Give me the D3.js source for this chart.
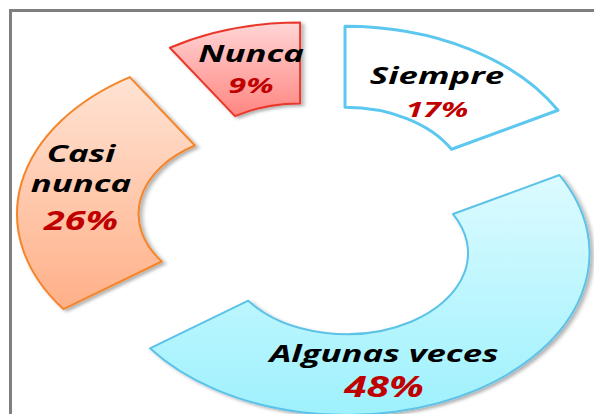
<!DOCTYPE html>
<html>
<head>
<meta charset="utf-8">
<script src="https://cdn.jsdelivr.net/npm/d3@7"></script>
<style>
  html, body { margin: 0; padding: 0; background: #ffffff; }
  svg { display: block; }
  text { font-family: "Open Sans", "Noto Sans", sans-serif; font-weight: 700; font-style: italic; }
</style>
</head>
<body>
<svg id="chart" width="594" height="414"></svg>
<script>
// Survey answer shares (percent)
const categories = ["Siempre", "Algunas veces", "Casi nunca", "Nunca"];
const values = [17, 48, 26, 9];
const labelLines = [["Siempre"], ["Algunas veces"], ["Casi", "nunca"], ["Nunca"]];

// Layout and styling
const W = 594, H = 414;
const cx = 316, cy = 221;          // centre of the (unexploded) ring
const outerR = 162, innerR = 81;   // vertical radii
const stretchX = 1.5;              // ring is drawn wider than tall
const explode = 38;                // distance each segment is pulled out
const textStretch = 1.45;

const styles = [
  { stroke: "#5cc8ef", width: 3, top: "#ffffff", bottom: "#ffffff" },
  { stroke: "#5cc2e8", width: 2, top: "#dcfbff", bottom: "#9ef1fd" },
  { stroke: "#f5842a", width: 2, top: "#ffe3d4", bottom: "#ffb088" },
  { stroke: "#e8392c", width: 2, top: "#ffd6d6", bottom: "#ff8580" }
];
// label anchor: centre x, baselines of the name lines and of the percentage
const labelPos = [
  { x: 437, ys: [84], pctY: 117, size: 24, pct: 22 },
  { x: 384, ys: [362], pctY: 397, size: 24, pct: 28 },
  { x: 81, ys: [162, 192], pctY: 230, size: 24, pct: 26 },
  { x: 251, ys: [62], pctY: 93, size: 24, pct: 22 }
];

const svg = d3.select("#chart");
const defs = svg.append("defs");

const shadow = defs.append("filter").attr("id", "shadow")
  .attr("x", "-10%").attr("y", "-10%").attr("width", "130%").attr("height", "130%");
shadow.append("feDropShadow")
  .attr("dx", 2).attr("dy", 2).attr("stdDeviation", 1.5)
  .attr("flood-color", "#000").attr("flood-opacity", 0.3);

styles.forEach((s, i) => {
  const lg = defs.append("linearGradient").attr("id", "grad" + i)
    .attr("x1", 0).attr("y1", 0).attr("x2", 0).attr("y2", 1);
  lg.append("stop").attr("offset", "0%").attr("stop-color", s.top);
  lg.append("stop").attr("offset", "100%").attr("stop-color", s.bottom);
});

// Frame around the plot area
svg.append("rect")
  .attr("x", 10.5).attr("y", 10.5)
  .attr("width", W + 20).attr("height", H + 20)
  .attr("fill", "#ffffff")
  .attr("stroke", "#7f7f7f").attr("stroke-width", 3);

const pie = d3.pie().sort(null).value(d => d).startAngle(0).endAngle(2 * Math.PI);
const arcs = pie(values);
const arc = d3.arc().innerRadius(innerR).outerRadius(outerR);

const seg = svg.append("g").selectAll("g")
  .data(arcs)
  .join("g")
  .attr("transform", d => {
    const mid = (d.startAngle + d.endAngle) / 2;
    const ox = Math.sin(mid) * explode * stretchX;
    const oy = -Math.cos(mid) * explode;
    return `translate(${cx + ox},${cy + oy}) scale(${stretchX},1)`;
  });

seg.append("path")
  .attr("d", arc)
  .attr("fill", (d, i) => `url(#grad${i})`)
  .attr("stroke", (d, i) => styles[i].stroke)
  .attr("stroke-width", (d, i) => styles[i].width)
  .attr("stroke-linejoin", "round")
  .attr("vector-effect", "non-scaling-stroke")
  .attr("filter", (d, i) => i === 0 ? null : "url(#shadow)");

// Category and percentage labels
const fmt = d3.format(".0%");
const total = d3.sum(values);
categories.forEach((c, i) => {
  const p = labelPos[i];
  const g = svg.append("g");
  labelLines[i].forEach((ln, k) => {
    g.append("text")
      .attr("transform", `translate(${p.x},${p.ys[k]}) scale(${textStretch},1)`)
      .attr("text-anchor", "middle")
      .attr("font-size", p.size)
      .attr("fill", "#000000")
      .text(ln);
  });
  g.append("text")
    .attr("transform", `translate(${p.x},${p.pctY}) scale(${textStretch},1)`)
    .attr("text-anchor", "middle")
    .attr("font-size", p.pct)
    .attr("fill", "#c00000")
    .text(fmt(values[i] / total));
});
</script>
</body>
</html>
